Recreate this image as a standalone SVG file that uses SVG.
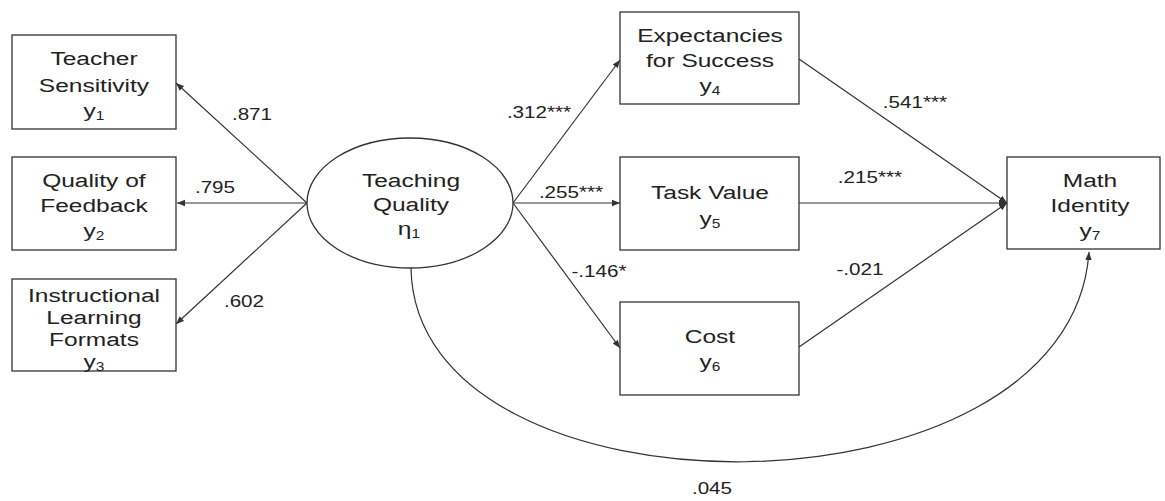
<svg xmlns="http://www.w3.org/2000/svg" width="1165" height="501" viewBox="0 0 1165 501">
<defs>
<style>
.box{fill:#fff;stroke:#333;stroke-width:1.3}
text{font-family:"Liberation Sans",Arial,sans-serif;fill:#222;text-anchor:middle;transform-box:fill-box;transform-origin:center;transform:scaleX(1.29)}
.t{font-size:19px}
.l{font-size:16px}
.s{font-size:12px}
.c{fill:none;stroke:#333;stroke-width:1.2;marker-end:url(#a)}
</style>
<marker id="a" viewBox="0 0 10 10" refX="10" refY="5" markerWidth="8" markerHeight="8" markerUnits="userSpaceOnUse" orient="auto">
<path d="M0,1 L10,5 L0,9 z" fill="#333"/>
</marker>
</defs>
<rect width="1165" height="501" fill="#fff"/>
<g id="connectors">
<line class="c" x1="307" y1="203" x2="176" y2="83"/>
<line class="c" x1="307" y1="203" x2="177" y2="203"/>
<line class="c" x1="307" y1="203" x2="176" y2="324"/>
<line class="c" x1="513" y1="203" x2="620" y2="60"/>
<line class="c" x1="513" y1="203" x2="620" y2="203"/>
<line class="c" x1="513" y1="203" x2="620" y2="348"/>
<line class="c" x1="799" y1="59" x2="1007" y2="203"/>
<line class="c" x1="799" y1="203" x2="1007" y2="203"/>
<line class="c" x1="799" y1="347" x2="1007" y2="203"/>
<path class="c" d="M411,268 C415,529 1070,529 1089,252"/>
</g>
<g id="y1"><rect class="box" x="12" y="35" width="164" height="94"/>
<text class="t" x="94" y="65">Teacher</text><text class="t" x="94" y="92">Sensitivity</text><text class="t" x="94" y="117">y<tspan class="s" dy="3">1</tspan></text></g>
<g id="y2"><rect class="box" x="12" y="157" width="164" height="93"/>
<text class="t" x="94" y="187">Quality of</text><text class="t" x="94" y="212">Feedback</text><text class="t" x="94" y="237">y<tspan class="s" dy="3">2</tspan></text></g>
<g id="y3"><rect class="box" x="12" y="279" width="164" height="92"/>
<text class="t" x="94" y="302">Instructional</text><text class="t" x="94" y="324">Learning</text><text class="t" x="94" y="346">Formats</text><text class="t" x="94" y="368">y<tspan class="s" dy="3">3</tspan></text></g>
<g id="eta1"><ellipse class="box" cx="410" cy="203" rx="103" ry="65"/>
<text class="t" x="411" y="187">Teaching</text><text class="t" x="411" y="211">Quality</text><text class="t" x="409" y="235">η<tspan class="s" dy="3">1</tspan></text></g>
<g id="y4"><rect class="box" x="620" y="12" width="179" height="92"/>
<text class="t" x="710" y="42">Expectancies</text><text class="t" x="710" y="67">for Success</text><text class="t" x="710" y="92">y<tspan class="s" dy="3">4</tspan></text></g>
<g id="y5"><rect class="box" x="620" y="157" width="179" height="93"/>
<text class="t" x="710" y="199">Task Value</text><text class="t" x="710" y="225">y<tspan class="s" dy="3">5</tspan></text></g>
<g id="y6"><rect class="box" x="620" y="302" width="179" height="93"/>
<text class="t" x="710" y="343">Cost</text><text class="t" x="710" y="368">y<tspan class="s" dy="3">6</tspan></text></g>
<g id="y7"><rect class="box" x="1007" y="157" width="153" height="92"/>
<text class="t" x="1090" y="187">Math</text><text class="t" x="1090" y="212">Identity</text><text class="t" x="1090" y="237">y<tspan class="s" dy="3">7</tspan></text></g>
<g id="labels">
<text class="l" x="252" y="120">.871</text>
<text class="l" x="215" y="193">.795</text>
<text class="l" x="244" y="307">.602</text>
<text class="l" x="539" y="118">.312***</text>
<text class="l" x="571" y="198">.255***</text>
<text class="l" x="599" y="277">-.146*</text>
<text class="l" x="915" y="108">.541***</text>
<text class="l" x="870" y="183">.215***</text>
<text class="l" x="860" y="275">-.021</text>
<text class="l" x="712" y="494">.045</text>
</g>
</svg>
